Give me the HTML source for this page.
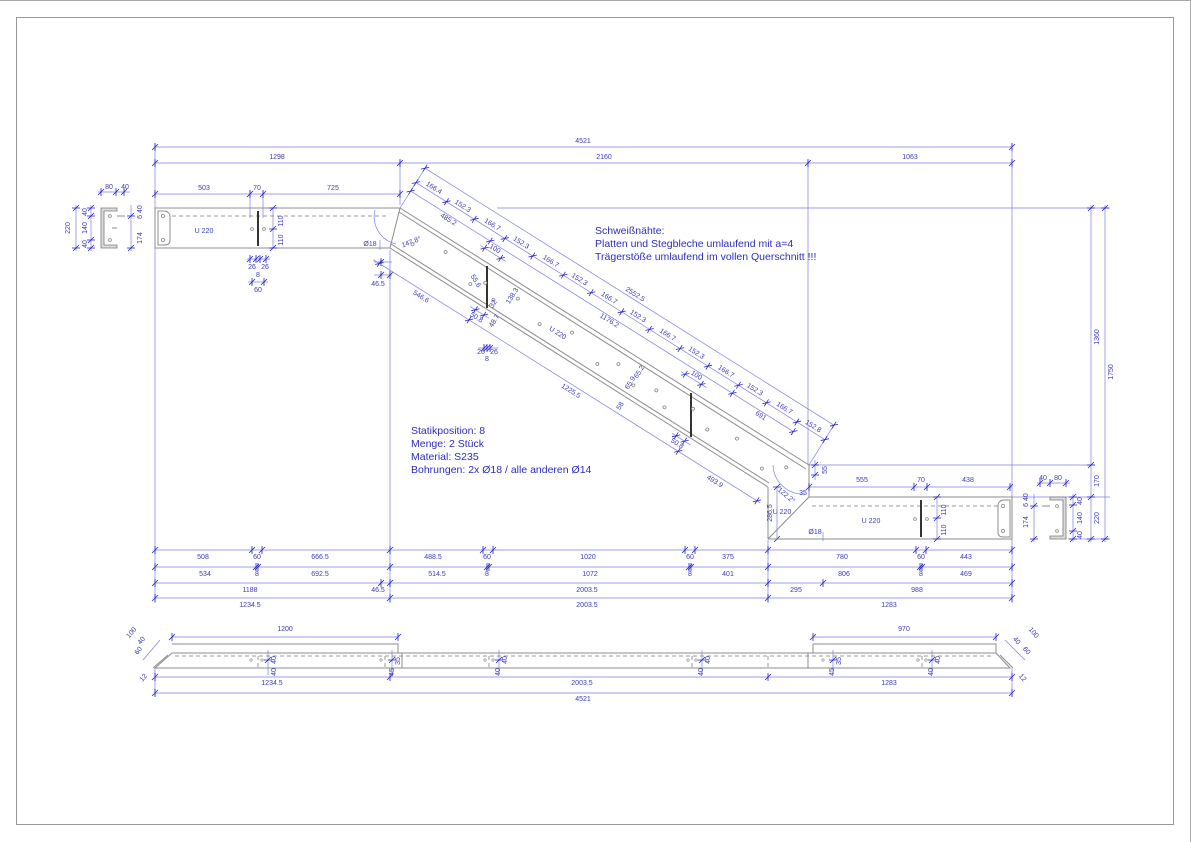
<!DOCTYPE html>
<html><head><meta charset="utf-8"><style>
html,body{margin:0;padding:0;background:#fff;}
svg{display:block;}
.d{stroke:#7d7de6;stroke-width:.7;fill:none}
.k{stroke:#2525c8;stroke-width:.8;fill:none}
.g{stroke:#8c8c8c;stroke-width:1;fill:none}
.gd{stroke:#999;stroke-width:1;fill:none;stroke-dasharray:4 3}
.t{fill:#3a3ab8;font-family:"Liberation Sans",sans-serif;font-size:7px;text-anchor:middle}
.b{fill:#2c2cc0;font-family:"Liberation Sans",sans-serif;font-size:10.5px}
.h{fill:#fff;stroke:#888;stroke-width:.8}
</style></head><body>
<svg width="1191" height="842" viewBox="0 0 1191 842" xmlns="http://www.w3.org/2000/svg">
<defs>
<path id="tk" d="M-3,3 L3,-3 M0,-4 L0,4" stroke="#2525c8" stroke-width=".8" fill="none"/>
<path id="tv" d="M-3,3 L3,-3 M-4,0 L4,0" stroke="#2525c8" stroke-width=".8" fill="none"/>
</defs>
<rect x="0" y="0" width="1191" height="842" fill="#fff"/>
<line x1="0" y1="0.5" x2="1191" y2="0.5" stroke="#aaa"/>
<line x1="1190.5" y1="0" x2="1190.5" y2="842" stroke="#aaa"/>
<rect x="16.5" y="17.5" width="1157" height="807" fill="none" stroke="#999"/>

<!-- ===== extension lines ===== -->
<g class="d">
<line x1="155" y1="143" x2="155" y2="603"/>
<line x1="1012" y1="143" x2="1012" y2="603"/>
<line x1="400" y1="160" x2="400" y2="205"/>
<line x1="808" y1="160" x2="808" y2="465"/>
<line x1="390" y1="250" x2="390" y2="603"/>
<line x1="768" y1="540" x2="768" y2="603"/>
<line x1="250" y1="190" x2="250" y2="218"/><line x1="263" y1="190" x2="263" y2="218"/>
<line x1="497" y1="208" x2="1110" y2="208"/>
<line x1="809" y1="465" x2="1095" y2="465"/>
<line x1="1012" y1="497" x2="1110" y2="497"/>
<line x1="1068" y1="539" x2="1110" y2="539"/>
</g>

<!-- top dims -->
<g class="d"><line x1="155" y1="147" x2="1012" y2="147"/><line x1="155" y1="163" x2="1012" y2="163"/><line x1="155" y1="194" x2="400" y2="194"/></g>
<use href="#tk" x="155" y="147"/><use href="#tk" x="1012" y="147"/>
<use href="#tk" x="155" y="163"/><use href="#tk" x="400" y="163"/><use href="#tk" x="808" y="163"/><use href="#tk" x="1012" y="163"/>
<use href="#tk" x="155" y="194"/><use href="#tk" x="250" y="194"/><use href="#tk" x="263" y="194"/><use href="#tk" x="400" y="194"/>
<text class="t" x="583" y="143">4521</text>
<text class="t" x="277" y="159">1298</text><text class="t" x="604" y="159">2160</text><text class="t" x="910" y="159">1063</text>
<text class="t" x="204" y="190">503</text><text class="t" x="257" y="190">70</text><text class="t" x="333" y="190">725</text>

<!-- ===== left beam ===== -->
<path class="g" d="M155,208 L400,208 L390,248 L155,248 Z"/>
<line class="gd" x1="172" y1="216" x2="388" y2="216"/>
<path class="g" d="M158,211 L165,211 Q170,212 170,217 L170,240 Q170,245 165,245 L158,245 Z"/>
<circle class="h" cx="163" cy="216" r="1.6"/><circle class="h" cx="163" cy="240" r="1.6"/>
<line x1="258" y1="211" x2="258" y2="246" stroke="#333" stroke-width="2"/>
<circle class="h" cx="252" cy="229" r="1.4"/><circle class="h" cx="264" cy="229" r="1.4"/>
<text class="t" x="204" y="233">U 220</text>
<text class="t" x="370" y="246">Ø18</text>
<line class="d" x1="380" y1="240" x2="380" y2="250"/>
<path class="d" d="M375,210 A28,28 0 0 0 396,244"/>
<text class="t" x="412" y="244" transform="rotate(-20 412 244)">147.8°</text>
<!-- v dims left beam -->
<line class="d" x1="273" y1="208" x2="273" y2="248"/><use href="#tv" x="273" y="208"/><use href="#tv" x="273" y="229"/><use href="#tv" x="273" y="248"/>
<text class="t" x="283" y="221" transform="rotate(-90 283 221)">110</text><text class="t" x="283" y="240" transform="rotate(-90 283 240)">110</text>
<line class="d" x1="247" y1="259" x2="270" y2="259"/><use href="#tk" x="250" y="259"/><use href="#tk" x="256" y="259"/><use href="#tk" x="260" y="259"/><use href="#tk" x="266" y="259"/>
<text class="t" x="252" y="269">26</text><text class="t" x="265" y="269">26</text><text class="t" x="258" y="277">8</text>
<line class="d" x1="248" y1="282" x2="268" y2="282"/><use href="#tk" x="252" y="282"/><use href="#tk" x="264" y="282"/><text class="t" x="258" y="292">60</text>
<line class="d" x1="374" y1="262" x2="392" y2="262"/><line class="d" x1="374" y1="275" x2="392" y2="275"/>
<use href="#tk" x="381" y="262"/><use href="#tk" x="390" y="275"/><use href="#tk" x="381" y="275"/>
<text class="t" x="378" y="286">46.5</text>

<!-- left section -->
<path d="M101,208 L117,208 L117,211 L104,211 L104,245 L117,245 L117,248 L101,248 Z" fill="#ddd" stroke="#777" stroke-width=".8"/>
<line class="g" x1="117" y1="216" x2="125" y2="216"/><line class="g" x1="112" y1="228" x2="117" y2="228"/>
<circle class="h" cx="110" cy="216" r="1.4"/><circle class="h" cx="110" cy="240" r="1.4"/>
<line class="d" x1="98" y1="192" x2="130" y2="192"/><use href="#tk" x="101" y="192"/><use href="#tk" x="116" y="192"/><use href="#tk" x="124" y="192"/>
<text class="t" x="109" y="189">80</text><text class="t" x="125" y="189">40</text>
<line class="d" x1="76" y1="205" x2="76" y2="251"/><use href="#tv" x="76" y="208"/><use href="#tv" x="76" y="248"/>
<text class="t" x="70" y="228" transform="rotate(-90 70 228)">220</text>
<line class="d" x1="91" y1="205" x2="91" y2="251"/><use href="#tv" x="91" y="208"/><use href="#tv" x="91" y="216"/><use href="#tv" x="91" y="240"/><use href="#tv" x="91" y="248"/>
<text class="t" x="87" y="212" transform="rotate(-90 87 212)">40</text><text class="t" x="87" y="228" transform="rotate(-90 87 228)">140</text><text class="t" x="87" y="244" transform="rotate(-90 87 244)">40</text>
<line class="d" x1="131" y1="205" x2="131" y2="251"/><use href="#tv" x="131" y="216"/><use href="#tv" x="131" y="248"/>
<text class="t" x="142" y="212" transform="rotate(-90 142 212)">6 40</text><text class="t" x="142" y="238" transform="rotate(-90 142 238)">174</text>

<!-- ===== diagonal beam ===== -->
<path class="g" d="M400,208 L809,465 M390,248 L768,487"/>
<path class="g" d="M399,212 L806,469 M391,244 L769,483" stroke="#aaa"/>
<path class="g" d="M809,465 L809,497 M768,487 L768,539 M768,539 L809,497"/>
<line x1="487" y1="266" x2="487" y2="308" stroke="#333" stroke-width="2"/>
<line x1="691" y1="393" x2="691" y2="437" stroke="#333" stroke-width="2"/>
<g transform="translate(400,208) rotate(32.15)">
 <g fill="#fff" stroke="#888" stroke-width=".8">
 <circle cx="30" cy="24" r="1.5"/><circle cx="62" cy="13" r="1.5"/><circle cx="100" cy="27" r="1.5"/><circle cx="112" cy="18" r="1.5"/>
 <circle cx="128" cy="28" r="1.5"/><circle cx="148" cy="14" r="1.5"/><circle cx="180" cy="24" r="1.5"/><circle cx="212" cy="14" r="1.5"/>
 <circle cx="250" cy="27" r="1.5"/><circle cx="268" cy="16" r="1.5"/><circle cx="292" cy="26" r="1.5"/><circle cx="314" cy="18" r="1.5"/>
 <circle cx="330" cy="28" r="1.5"/><circle cx="355" cy="14" r="1.5"/><circle cx="378" cy="24" r="1.5"/><circle cx="408" cy="16" r="1.5"/>
 <circle cx="445" cy="28" r="1.5"/><circle cx="465" cy="14" r="1.5"/></g>
 <text class="t" x="200" y="24">U 220</text>
 <!-- rows above -->
 <g class="d"><line x1="0" y1="-47" x2="483" y2="-47"/><line x1="0" y1="-30" x2="483" y2="-30"/><line x1="0" y1="-20" x2="452" y2="-20"/>
 <line x1="88" y1="-11" x2="118" y2="-11"/><line x1="325" y1="-11" x2="355" y2="-11"/>
 <line x1="5" y1="58" x2="462" y2="58"/><line x1="112" y1="46" x2="134" y2="46"/><line x1="350" y1="46" x2="372" y2="46"/>
 <line x1="0" y1="-50" x2="0" y2="0"/><line x1="483" y1="-50" x2="483" y2="0"/></g>
 <use href="#tk" x="0" y="-47"/><use href="#tk" x="483" y="-47"/>
 <use href="#tk" x="0" y="-30"/><use href="#tk" x="36" y="-30"/><use href="#tk" x="68.9" y="-30"/><use href="#tk" x="105" y="-30"/><use href="#tk" x="137.9" y="-30"/><use href="#tk" x="174" y="-30"/><use href="#tk" x="206.9" y="-30"/><use href="#tk" x="243" y="-30"/><use href="#tk" x="275.9" y="-30"/><use href="#tk" x="311.9" y="-30"/><use href="#tk" x="344.9" y="-30"/><use href="#tk" x="380.9" y="-30"/><use href="#tk" x="413.9" y="-30"/><use href="#tk" x="449.9" y="-30"/><use href="#tk" x="483" y="-30"/>
 <use href="#tk" x="0" y="-20"/><use href="#tk" x="94" y="-20"/><use href="#tk" x="380" y="-20"/><use href="#tk" x="452" y="-20"/>
 <use href="#tk" x="93" y="-11"/><use href="#tk" x="112" y="-11"/><use href="#tk" x="330" y="-11"/><use href="#tk" x="349" y="-11"/>
 <use href="#tk" x="12" y="58"/><use href="#tk" x="118" y="58"/><use href="#tk" x="365" y="58"/><use href="#tk" x="458" y="58"/>
 <use href="#tk" x="118" y="46"/><use href="#tk" x="128" y="46"/><use href="#tk" x="355" y="46"/><use href="#tk" x="365" y="46"/>
 <text class="t" x="245" y="-50">2552.5</text>
 <text class="t" x="18" y="-33">166.4</text><text class="t" x="52" y="-33">152.3</text><text class="t" x="87" y="-33">166.7</text><text class="t" x="121" y="-33">152.3</text><text class="t" x="156" y="-33">166.7</text><text class="t" x="190" y="-33">152.3</text><text class="t" x="225" y="-33">166.7</text><text class="t" x="259" y="-33">152.3</text><text class="t" x="294" y="-33">166.7</text><text class="t" x="328" y="-33">152.3</text><text class="t" x="363" y="-33">166.7</text><text class="t" x="397" y="-33">152.3</text><text class="t" x="432" y="-33">166.7</text><text class="t" x="466" y="-33">152.8</text>
 <text class="t" x="47" y="-14">485.2</text><text class="t" x="237" y="-14">1176.2</text><text class="t" x="416" y="-14">691</text>
 <text class="t" x="102" y="-14" transform="translate(0,0)">100</text><text class="t" x="340" y="-14">100</text>
 <text class="t" x="65" y="66">546.6</text><text class="t" x="242" y="66">1225.5</text><text class="t" x="412" y="66">493.9</text>
 <text class="t" x="123" y="54">50.8</text><text class="t" x="360" y="54">50.8</text>
</g>
<text class="t" x="474" y="282" transform="rotate(58 474 282)">55.6</text>
<text class="t" x="514" y="297" transform="rotate(-58 514 297)">138.3</text>
<text class="t" x="495" y="305" transform="rotate(-58 495 305)">32</text>
<text class="t" x="496" y="322" transform="rotate(-58 496 322)">48.7</text>
<text class="t" x="641" y="373" transform="rotate(-58 641 373)">65.2</text>
<text class="t" x="632" y="384" transform="rotate(-58 632 384)">65.9</text>
<text class="t" x="622" y="407" transform="rotate(-58 622 407)">58</text>
<line class="d" x1="478" y1="348" x2="498" y2="348"/><use href="#tk" x="484" y="348"/><use href="#tk" x="487" y="348"/><use href="#tk" x="490" y="348"/>
<text class="t" x="481" y="354">26</text><text class="t" x="494" y="354">26</text><text class="t" x="487" y="361">8</text>
<path class="d" d="M773,465 A30,30 0 0 0 805,494"/>
<text class="t" x="785" y="497" transform="rotate(40 785 497)">122.2°</text>
<text class="t" x="782" y="514">U 220</text>
<line class="d" x1="777" y1="486" x2="777" y2="540"/><use href="#tv" x="777" y="487"/><use href="#tv" x="777" y="539"/>
<text class="t" x="772" y="513" transform="rotate(-90 772 513)">286.5</text>
<line class="d" x1="815" y1="460" x2="815" y2="480"/><use href="#tv" x="815" y="465"/><use href="#tv" x="815" y="475"/>
<text class="t" x="827" y="470" transform="rotate(-90 827 470)">55</text>
<text class="t" x="803" y="495">35</text>

<!-- ===== right beam ===== -->
<path class="g" d="M809,497 L1012,497 L1012,539 L768,539"/>
<line class="gd" x1="812" y1="506" x2="1000" y2="506"/>
<path class="g" d="M1010,500 L1003,500 Q998,501 998,506 L998,532 Q998,537 1003,537 L1010,537 Z"/>
<circle class="h" cx="1003" cy="506" r="1.6"/><circle class="h" cx="1003" cy="531" r="1.6"/>
<line x1="921" y1="500" x2="921" y2="537" stroke="#333" stroke-width="2"/>
<circle class="h" cx="915" cy="519" r="1.4"/><circle class="h" cx="927" cy="519" r="1.4"/>
<text class="t" x="871" y="523">U 220</text><text class="t" x="815" y="534">Ø18</text>
<line class="d" x1="823" y1="532" x2="823" y2="541"/>
<line class="d" x1="809" y1="487" x2="1012" y2="487"/>
<use href="#tk" x="809" y="487"/><use href="#tk" x="914" y="487"/><use href="#tk" x="927" y="487"/><use href="#tk" x="1010" y="487"/>
<text class="t" x="862" y="482">555</text><text class="t" x="921" y="482">70</text><text class="t" x="968" y="482">438</text>
<line class="d" x1="937" y1="497" x2="937" y2="539"/><use href="#tv" x="937" y="497"/><use href="#tv" x="937" y="518"/><use href="#tv" x="937" y="539"/>
<text class="t" x="946" y="510" transform="rotate(-90 946 510)">110</text><text class="t" x="946" y="530" transform="rotate(-90 946 530)">110</text>
<!-- right section -->
<path d="M1066,497 L1050,497 L1050,500 L1063,500 L1063,536 L1050,536 L1050,539 L1066,539 Z" fill="#ddd" stroke="#777" stroke-width=".8"/>
<line class="g" x1="1042" y1="506" x2="1050" y2="506"/>
<circle class="h" cx="1057" cy="506" r="1.4"/><circle class="h" cx="1057" cy="531" r="1.4"/>
<line class="d" x1="1037" y1="483" x2="1070" y2="483"/><use href="#tk" x="1040" y="483"/><use href="#tk" x="1050" y="483"/><use href="#tk" x="1066" y="483"/>
<text class="t" x="1043" y="480">40</text><text class="t" x="1058" y="480">80</text>
<line class="d" x1="1034" y1="494" x2="1034" y2="542"/><use href="#tv" x="1034" y="506"/><use href="#tv" x="1034" y="539"/>
<text class="t" x="1028" y="500" transform="rotate(-90 1028 500)">6 40</text><text class="t" x="1028" y="522" transform="rotate(-90 1028 522)">174</text>
<line class="d" x1="1073" y1="494" x2="1073" y2="542"/><use href="#tv" x="1073" y="497"/><use href="#tv" x="1073" y="505"/><use href="#tv" x="1073" y="531"/><use href="#tv" x="1073" y="539"/>
<text class="t" x="1082" y="501" transform="rotate(-90 1082 501)">40</text><text class="t" x="1082" y="518" transform="rotate(-90 1082 518)">140</text><text class="t" x="1082" y="535" transform="rotate(-90 1082 535)">40</text>
<!-- right vertical dims -->
<line class="d" x1="1091" y1="205" x2="1091" y2="542"/><use href="#tv" x="1091" y="208"/><use href="#tv" x="1091" y="465"/><use href="#tv" x="1091" y="497"/><use href="#tv" x="1091" y="539"/>
<line class="d" x1="1105" y1="205" x2="1105" y2="542"/><use href="#tv" x="1105" y="208"/><use href="#tv" x="1105" y="539"/>
<text class="t" x="1099" y="337" transform="rotate(-90 1099 337)">1360</text>
<text class="t" x="1099" y="481" transform="rotate(-90 1099 481)">170</text>
<text class="t" x="1099" y="518" transform="rotate(-90 1099 518)">220</text>
<text class="t" x="1113" y="372" transform="rotate(-90 1113 372)">1750</text>

<!-- texts -->
<text class="b" x="595" y="234">Schweißnähte:</text>
<text class="b" x="595" y="247">Platten und Stegbleche umlaufend mit a=4</text>
<text class="b" x="595" y="260">Trägerstöße umlaufend im vollen Querschnitt !!!</text>
<text class="b" x="411" y="434">Statikposition: 8</text>
<text class="b" x="411" y="447">Menge: 2 Stück</text>
<text class="b" x="411" y="460">Material: S235</text>
<text class="b" x="411" y="473">Bohrungen: 2x Ø18 / alle anderen Ø14</text>

<!-- ===== bottom dim rows ===== -->
<g class="d"><line x1="155" y1="550" x2="1012" y2="550"/><line x1="155" y1="567" x2="1012" y2="567"/><line x1="155" y1="583" x2="1012" y2="583"/><line x1="155" y1="598" x2="1012" y2="598"/></g>
<use href="#tk" x="155" y="550"/><use href="#tk" x="252" y="550"/><use href="#tk" x="262" y="550"/><use href="#tk" x="390" y="550"/><use href="#tk" x="483" y="550"/><use href="#tk" x="493" y="550"/><use href="#tk" x="685" y="550"/><use href="#tk" x="695" y="550"/><use href="#tk" x="768" y="550"/><use href="#tk" x="916" y="550"/><use href="#tk" x="926" y="550"/><use href="#tk" x="1012" y="550"/>
<use href="#tk" x="155" y="567"/><use href="#tk" x="256" y="567"/><use href="#tk" x="258" y="567"/><use href="#tk" x="390" y="567"/><use href="#tk" x="487" y="567"/><use href="#tk" x="489" y="567"/><use href="#tk" x="689" y="567"/><use href="#tk" x="691" y="567"/><use href="#tk" x="768" y="567"/><use href="#tk" x="920" y="567"/><use href="#tk" x="922" y="567"/><use href="#tk" x="1012" y="567"/>
<use href="#tk" x="155" y="583"/><use href="#tk" x="381" y="583"/><use href="#tk" x="390" y="583"/><use href="#tk" x="768" y="583"/><use href="#tk" x="823" y="583"/><use href="#tk" x="1012" y="583"/>
<use href="#tk" x="155" y="598"/><use href="#tk" x="390" y="598"/><use href="#tk" x="768" y="598"/><use href="#tk" x="1012" y="598"/>
<g class="t">
<text x="203" y="559">508</text><text x="257" y="559">60</text><text x="320" y="559">666.5</text><text x="433" y="559">488.5</text><text x="487" y="559">60</text><text x="588" y="559">1020</text><text x="690" y="559">60</text><text x="728" y="559">375</text><text x="842" y="559">780</text><text x="921" y="559">60</text><text x="966" y="559">443</text>
<text x="205" y="576">534</text><text x="257" y="576">8</text><text x="320" y="576">692.5</text><text x="437" y="576">514.5</text><text x="487" y="576">8</text><text x="590" y="576">1072</text><text x="690" y="576">8</text><text x="728" y="576">401</text><text x="844" y="576">806</text><text x="921" y="576">8</text><text x="966" y="576">469</text>
<text x="250" y="592">1188</text><text x="378" y="592">46.5</text><text x="587" y="592">2003.5</text><text x="796" y="592">295</text><text x="917" y="592">988</text>
<text x="250" y="607">1234.5</text><text x="587" y="607">2003.5</text><text x="889" y="607">1283</text>
</g>

<!-- ===== bottom view ===== -->
<path class="g" d="M172,644 L398,644 L398,653 M813,653 L813,644 L996,644 L996,653"/>
<path class="g" d="M172,653 L996,653 L1010,668 L155,668 Z"/>
<path class="g" d="M168,655 L153,668" stroke="#777"/><path class="g" d="M1000,655 L1013,668" stroke="#777"/>
<line class="gd" x1="175" y1="656" x2="994" y2="656"/>
<g class="g"><line x1="402" y1="653" x2="402" y2="668"/><line x1="808" y1="653" x2="808" y2="668"/></g>
<g class="gd"><line x1="258" y1="656" x2="258" y2="668"/><line x1="385" y1="656" x2="385" y2="668"/><line x1="489" y1="656" x2="489" y2="668"/><line x1="692" y1="656" x2="692" y2="668"/><line x1="768" y1="656" x2="768" y2="668"/><line x1="922" y1="656" x2="922" y2="668"/></g>
<g fill="#fff" stroke="#888" stroke-width=".7">
<circle cx="251" cy="660" r="1.2"/><circle cx="262" cy="660" r="1.2"/><circle cx="381" cy="660" r="1.2"/><circle cx="485" cy="660" r="1.2"/><circle cx="493" cy="660" r="1.2"/><circle cx="688" cy="660" r="1.2"/><circle cx="696" cy="660" r="1.2"/><circle cx="823" cy="660" r="1.2"/><circle cx="918" cy="660" r="1.2"/><circle cx="926" cy="660" r="1.2"/></g>
<g class="d"><line x1="172" y1="637" x2="398" y2="637"/><line x1="813" y1="637" x2="996" y2="637"/>
<line x1="155" y1="677" x2="1012" y2="677"/><line x1="155" y1="693" x2="1012" y2="693"/>
<line x1="155" y1="668" x2="155" y2="697"/><line x1="1012" y1="668" x2="1012" y2="697"/>
<line x1="268" y1="650" x2="268" y2="675"/><line x1="392" y1="650" x2="392" y2="675"/><line x1="499" y1="650" x2="499" y2="675"/><line x1="702" y1="650" x2="702" y2="675"/><line x1="833" y1="650" x2="833" y2="675"/><line x1="932" y1="650" x2="932" y2="675"/>
<line x1="143" y1="660" x2="160" y2="640"/><line x1="1005" y1="640" x2="1025" y2="660"/></g>
<use href="#tk" x="172" y="637"/><use href="#tk" x="398" y="637"/><use href="#tk" x="813" y="637"/><use href="#tk" x="996" y="637"/>
<use href="#tk" x="155" y="677"/><use href="#tk" x="390" y="677"/><use href="#tk" x="768" y="677"/><use href="#tk" x="1012" y="677"/>
<use href="#tk" x="155" y="693"/><use href="#tk" x="1012" y="693"/>
<use href="#tv" x="268" y="660"/><use href="#tv" x="392" y="660"/><use href="#tv" x="499" y="660"/><use href="#tv" x="702" y="660"/><use href="#tv" x="833" y="660"/><use href="#tv" x="932" y="660"/>
<g class="t">
<text x="285" y="631">1200</text><text x="904" y="631">970</text>
<text x="272" y="685">1234.5</text><text x="582" y="685">2003.5</text><text x="889" y="685">1283</text>
<text x="583" y="701">4521</text>
<text x="276" y="660" transform="rotate(-90 276 660)">40</text><text x="276" y="672" transform="rotate(-90 276 672)">40</text>
<text x="400" y="661" transform="rotate(-90 400 661)">35</text><text x="394" y="672" transform="rotate(-90 394 672)">45</text>
<text x="507" y="660" transform="rotate(-90 507 660)">40</text><text x="500" y="672" transform="rotate(-90 500 672)">40</text>
<text x="710" y="660" transform="rotate(-90 710 660)">40</text><text x="703" y="672" transform="rotate(-90 703 672)">40</text>
<text x="841" y="661" transform="rotate(-90 841 661)">35</text><text x="834" y="672" transform="rotate(-90 834 672)">45</text>
<text x="940" y="660" transform="rotate(-90 940 660)">40</text><text x="933" y="672" transform="rotate(-90 933 672)">40</text>
<text x="133" y="634" transform="rotate(-50 133 634)">100</text><text x="143" y="642" transform="rotate(-50 143 642)">40</text><text x="140" y="652" transform="rotate(-50 140 652)">60</text><text x="145" y="679" transform="rotate(-50 145 679)">12</text>
<text x="1032" y="634" transform="rotate(50 1032 634)">100</text><text x="1015" y="642" transform="rotate(50 1015 642)">40</text><text x="1025" y="652" transform="rotate(50 1025 652)">60</text><text x="1021" y="679" transform="rotate(50 1021 679)">12</text>
</g>
</svg>
</body></html>
